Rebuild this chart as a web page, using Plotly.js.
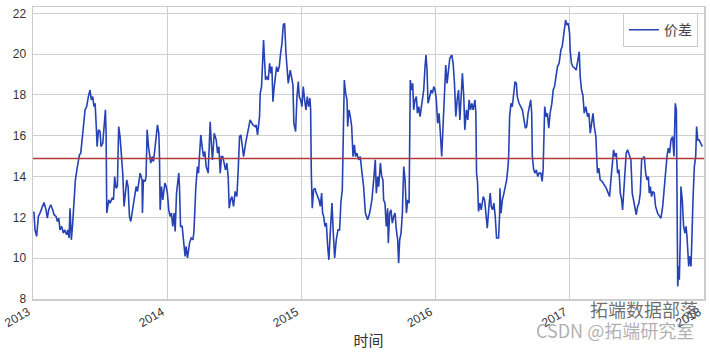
<!DOCTYPE html>
<html>
<head>
<meta charset="utf-8">
<script src="https://cdn.plot.ly/plotly-3.0.1.min.js"></script>
<style>html,body{margin:0;padding:0;background:#fff;}#chart{width:710px;height:352px;}</style>
</head>
<body>
<div id="chart"></div>
<script>
// time as decimal year, spread values
const time = [
2013.007,2013.015,2013.027,2013.040,2013.052,2013.072,2013.082,2013.097,2013.107,2013.117,
2013.132,2013.147,2013.157,2013.172,2013.182,2013.192,2013.201,2013.214,2013.226,2013.236,
2013.251,2013.259,2013.269,2013.276,2013.286,2013.296,2013.306,2013.316,2013.331,2013.346,
2013.356,2013.368,2013.376,2013.388,2013.400,2013.413,2013.425,2013.435,2013.445,2013.455,
2013.463,2013.473,2013.478,2013.488,2013.500,2013.507,2013.520,2013.530,2013.540,2013.545,
2013.550,2013.565,2013.575,2013.590,2013.600,2013.609,2013.619,2013.629,2013.639,2013.649,
2013.659,2013.669,2013.679,2013.699,2013.709,2013.719,2013.729,2013.739,2013.754,2013.769,
2013.779,2013.799,2013.813,2013.816,2013.823,
2013.836,2013.843,2013.851,2013.861,2013.868,2013.878,2013.888,2013.898,2013.908,2013.918,
2013.928,2013.938,2013.943,2013.948,2013.958,2013.968,2013.983,2013.993,2014.002,2014.012,
2014.022,2014.032,2014.042,2014.052,2014.060,2014.070,2014.082,2014.087,2014.092,2014.100,
2014.112,2014.117,2014.127,2014.134,2014.142,2014.152,2014.167,2014.179,2014.192,2014.199,
2014.206,2014.214,2014.226,2014.234,2014.241,2014.251,2014.261,2014.271,2014.281,2014.291,
2014.306,2014.311,2014.321,2014.331,2014.338,2014.351,2014.366,2014.376,2014.386,2014.396,
2014.405,2014.415,2014.425,2014.435,2014.445,2014.455,2014.463,2014.473,2014.483,2014.495,
2014.507,2014.520,2014.530,2014.540,2014.550,2014.570,2014.585,2014.600,2014.619,2014.639,
2014.657,
2014.664,2014.674,2014.689,2014.694,2014.704,2014.711,2014.719,2014.726,2014.734,2014.744,
2014.754,2014.764,2014.774,2014.781,2014.789,2014.796,2014.806,2014.816,2014.826,2014.836,
2014.846,2014.856,2014.866,2014.876,2014.886,2014.893,2014.903,2014.918,2014.928,2014.938,
2014.945,2014.958,2014.968,2014.978,2014.985,2014.995,2015.005,2015.015,2015.025,2015.035,
2015.045,2015.055,2015.065,2015.070,2015.075,2015.082,2015.092,2015.102,2015.112,2015.122,
2015.132,2015.142,2015.152,2015.159,2015.167,2015.177,2015.187,2015.197,2015.206,2015.216,
2015.224,2015.229,2015.239,2015.249,2015.261,2015.274,2015.286,2015.296,2015.306,2015.311,
2015.316,2015.321,2015.331,2015.341,2015.346,2015.356,2015.366,2015.376,2015.386,2015.396,
2015.405,2015.415,2015.428,2015.440,2015.453,2015.465,2015.478,
2015.495,2015.510,2015.527,2015.540,2015.552,2015.560,2015.570,2015.577,2015.590,2015.600,
2015.609,2015.614,2015.624,2015.634,2015.644,2015.649,2015.659,2015.669,2015.679,2015.689,
2015.699,2015.709,2015.719,2015.726,2015.734,2015.744,2015.754,2015.764,2015.774,2015.784,
2015.794,2015.804,2015.808,2015.813,2015.823,2015.831,2015.838,2015.848,2015.858,2015.866,
2015.876,2015.886,2015.896,2015.903,2015.913,2015.923,2015.930,2015.938,2015.945,2015.955,
2015.968,2015.978,2015.988,2015.998,2016.007,2016.017,2016.027,2016.037,2016.047,2016.057,
2016.067,2016.077,2016.087,2016.097,2016.107,2016.122,2016.132,2016.142,2016.152,2016.162,
2016.172,2016.182,2016.192,2016.201,2016.211,2016.219,2016.231,2016.241,2016.251,2016.261,
2016.271,2016.281,2016.294,
2016.301,2016.306,2016.313,2016.321,2016.331,2016.341,2016.356,2016.366,2016.376,2016.386,
2016.398,2016.408,2016.415,2016.425,2016.435,2016.445,2016.455,2016.470,2016.478,2016.480,
2016.488,2016.498,2016.510,2016.522,2016.530,2016.540,2016.545,2016.552,2016.562,2016.572,
2016.582,2016.592,2016.602,2016.609,2016.622,2016.634,2016.647,2016.659,2016.669,2016.679,
2016.689,2016.709,2016.716,2016.721,2016.731,2016.741,2016.751,2016.761,2016.771,2016.784,
2016.794,2016.801,2016.806,2016.813,2016.823,2016.833,2016.843,2016.853,2016.866,2016.876,
2016.886,2016.896,2016.908,2016.920,2016.933,2016.943,2016.953,2016.968,2016.978,2016.988,
2016.998,2017.002,2017.012,2017.022,2017.037,2017.047,2017.070,2017.077,2017.087,2017.097,
2017.107,2017.119,
2017.132,2017.142,2017.152,2017.162,2017.172,2017.182,2017.194,2017.201,2017.206,2017.216,
2017.226,2017.241,2017.256,2017.271,2017.286,2017.296,2017.306,2017.316,2017.326,2017.336,
2017.346,2017.356,2017.366,2017.376,2017.386,2017.393,2017.400,2017.410,2017.420,2017.430,
2017.443,2017.455,2017.465,2017.475,2017.485,2017.495,2017.505,2017.515,2017.525,2017.535,
2017.545,2017.555,2017.565,2017.575,2017.585,2017.592,2017.600,2017.609,2017.619,2017.629,
2017.639,2017.654,2017.669,2017.679,2017.692,2017.704,2017.714,2017.724,2017.734,2017.744,
2017.754,2017.766,2017.776,2017.786,2017.794,2017.796,2017.799,2017.804,2017.811,2017.816,
2017.823,2017.828,2017.838,2017.843,2017.848,2017.858,2017.866,2017.873,2017.878,2017.886,
2017.893,2017.903,2017.908,2017.913,2017.918,2017.928,2017.938,2017.945,2017.953,2017.963,
2017.973,2017.988
];
const spread = [
12.29,11.39,11.07,12.05,12.21,12.54,12.73,12.37,11.96,12.37,
12.62,12.37,12.13,12.05,11.80,11.96,11.39,11.56,11.23,11.39,
11.15,11.39,10.99,12.45,10.90,11.72,12.86,13.84,14.49,15.06,
15.15,15.80,16.45,17.27,17.43,17.92,18.24,17.76,17.92,17.43,
17.59,16.29,15.47,16.29,16.21,15.47,15.63,16.45,17.27,16.12,
12.21,12.86,12.70,12.94,12.86,14.00,13.43,13.51,16.45,15.96,
14.98,14.17,12.54,13.84,13.51,12.05,11.80,12.21,12.86,13.51,
13.27,14.17,13.84,12.21,13.84,
13.76,14.00,16.29,15.47,15.15,14.66,14.98,14.74,15.31,15.96,
16.53,16.12,14.98,12.37,13.51,12.86,13.68,13.51,13.19,12.37,
12.05,12.21,11.56,12.21,11.31,13.19,13.84,14.17,13.51,11.56,
11.56,11.23,10.58,10.09,10.58,10.01,10.74,10.99,10.90,11.23,
12.21,13.51,14.49,14.17,14.98,16.04,15.47,14.98,15.23,14.49,
14.17,15.31,16.69,15.47,14.82,16.12,15.80,15.15,15.47,14.17,
14.98,14.98,14.66,14.33,14.66,14.00,12.45,12.86,13.02,12.54,
13.27,13.02,14.33,15.96,16.04,14.98,15.63,16.12,16.78,16.53,
16.45,
16.53,16.04,16.94,18.08,18.41,19.71,20.69,19.71,18.73,18.90,
18.73,19.55,19.06,19.39,17.67,18.24,18.73,19.39,19.14,19.39,
20.04,20.53,21.43,21.51,20.04,19.55,18.57,19.22,18.90,18.49,
16.61,16.21,17.92,18.65,17.92,17.76,17.43,18.41,17.76,17.27,
17.92,17.43,17.84,17.27,14.17,12.45,13.35,13.43,13.19,13.02,
12.86,12.54,13.19,12.21,12.05,11.56,11.72,10.58,9.92,11.23,
12.05,12.70,11.23,10.01,10.90,11.39,11.39,12.78,13.35,15.80,
17.43,18.73,18.08,17.76,16.45,17.27,16.94,16.45,14.98,15.55,
14.98,15.15,14.82,14.98,14.17,13.51,12.21,
11.88,12.21,12.86,13.84,14.82,13.19,14.00,13.51,14.66,14.00,
13.84,12.86,12.70,11.56,12.45,10.74,12.21,12.37,11.72,12.05,
12.21,11.39,10.90,9.76,10.90,11.23,12.21,14.49,13.84,12.21,
12.86,12.70,14.98,18.73,18.24,18.57,17.27,17.76,17.92,17.10,
17.43,16.94,17.43,17.76,18.24,19.39,19.96,19.22,17.59,17.84,
18.24,18.08,18.41,18.24,17.76,16.61,17.10,16.12,14.98,16.45,
17.76,19.47,18.57,19.22,19.79,19.96,19.55,18.57,16.94,17.76,
18.24,16.78,18.24,19.06,17.92,16.29,17.27,16.78,17.76,17.27,
17.59,17.27,17.76,
17.10,14.17,13.76,12.29,12.70,12.37,13.02,12.86,12.05,11.47,
12.54,13.19,12.54,12.37,12.70,12.05,10.99,10.99,12.21,13.43,
12.21,12.86,13.19,13.51,13.84,14.49,14.98,16.94,17.59,17.43,
18.08,18.65,18.57,17.92,17.59,17.43,17.27,16.78,16.37,16.45,
17.10,17.76,17.10,14.98,14.33,14.17,14.33,14.00,14.17,14.17,
13.76,14.33,16.12,17.43,16.94,17.10,16.37,17.10,17.59,18.24,
18.41,18.90,19.39,19.55,20.20,20.37,21.02,21.67,21.43,21.51,
21.02,20.20,19.55,19.39,19.31,19.22,20.12,18.90,18.24,18.00,
17.10,17.43,
16.94,17.10,16.12,16.78,17.10,16.45,15.96,14.82,14.17,14.41,
13.84,13.76,13.60,13.43,13.19,13.02,13.84,14.66,15.31,14.98,
15.15,14.17,14.33,13.19,12.86,12.37,13.19,14.33,15.15,15.31,
14.98,14.82,13.19,12.86,12.54,12.13,12.54,12.70,13.19,14.82,
14.90,14.98,14.17,13.84,14.00,13.19,13.51,13.02,13.27,13.19,
12.54,12.21,12.05,11.96,12.54,13.51,14.17,14.98,15.39,15.15,
15.80,15.96,14.98,17.59,17.27,14.82,9.27,8.62,9.60,8.95,
10.90,13.51,12.86,12.21,11.56,11.23,11.56,11.07,10.25,9.60,
10.09,9.60,10.58,12.54,12.86,14.49,14.98,16.45,15.80,15.80,
15.63,15.47
];
const meanSpread = 14.88;
const yTicks = [8, 10, 12, 14, 16, 18, 20, 22];
const seriesName = '价差';
const xTitle = '时间';
const watermark1 = '拓端数据部落';
const watermark2 = 'CSDN @拓端研究室';

function toDate(t) {
  const y = Math.floor(t);
  const a = Date.UTC(y, 0, 1), b = Date.UTC(y + 1, 0, 1);
  return new Date(a + (t - y) * (b - a)).toISOString().replace('T', ' ').slice(0, 19);
}
const dates = time.map(toDate);

const fontFam = 'Arial, "Liberation Sans", "Noto Sans CJK SC", sans-serif';
const cjk = '"Noto Sans CJK SC", sans-serif';
const trace = {
  x: dates, y: spread, type: 'scatter', mode: 'lines', name: seriesName,
  line: {color: '#2642b4', width: 1.6}
};
const layout = {
  width: 710, height: 352,
  margin: {l: 33, r: 6, t: 7, b: 53},
  paper_bgcolor: '#ffffff', plot_bgcolor: '#ffffff',
  font: {family: fontFam, color: '#333333', size: 12},
  showlegend: true,
  legend: {
    x: 0.991, xanchor: 'right', y: 0.979, yanchor: 'top',
    bgcolor: '#ffffff', bordercolor: '#cccccc', borderwidth: 1,
    font: {family: cjk, size: 14, color: '#444444'}
  },
  xaxis: {
    type: 'date', range: ['2013-01-01', '2018-01-01'],
    tick0: '2013-01-01', dtick: 'M12', tickformat: '%Y', tickangle: -30,
    ticklabelshift: -5,
    showgrid: true, gridcolor: '#cfcfcf', gridwidth: 1,
    showline: true, linecolor: '#cccccc', linewidth: 1.5, mirror: true,
    zeroline: false, ticks: '', tickfont: {size: 12, color: '#333333'},
    title: {text: xTitle, font: {family: cjk, size: 15, color: '#333333'}, standoff: 6}
  },
  yaxis: {
    range: [8, 22.31], tickvals: yTicks,
    showgrid: true, gridcolor: '#cfcfcf', gridwidth: 1,
    showline: true, linecolor: '#cccccc', linewidth: 1.5, mirror: true,
    zeroline: false, ticks: '', tickfont: {size: 12, color: '#333333'},
    ticklabelstandoff: 3
  },
  shapes: [{
    type: 'line', xref: 'paper', x0: 0, x1: 1, yref: 'y', y0: meanSpread, y1: meanSpread,
    line: {color: '#b03a3a', width: 1.5}
  }],
  annotations: [
    {text: watermark1, xref: 'paper', yref: 'paper', x: 0.911, y: -0.033,
     xanchor: 'center', yanchor: 'middle', showarrow: false,
     font: {family: cjk, size: 18, color: 'rgba(85,85,85,0.85)'}},
    {text: watermark2, xref: 'paper', yref: 'paper', x: 0.867, y: -0.105,
     xanchor: 'center', yanchor: 'middle', showarrow: false,
     font: {family: cjk, size: 18, color: 'rgba(150,150,150,0.75)'}}
  ]
};
Plotly.newPlot('chart', [trace], layout, {displayModeBar: false, staticPlot: true});
</script>
</body>
</html>
